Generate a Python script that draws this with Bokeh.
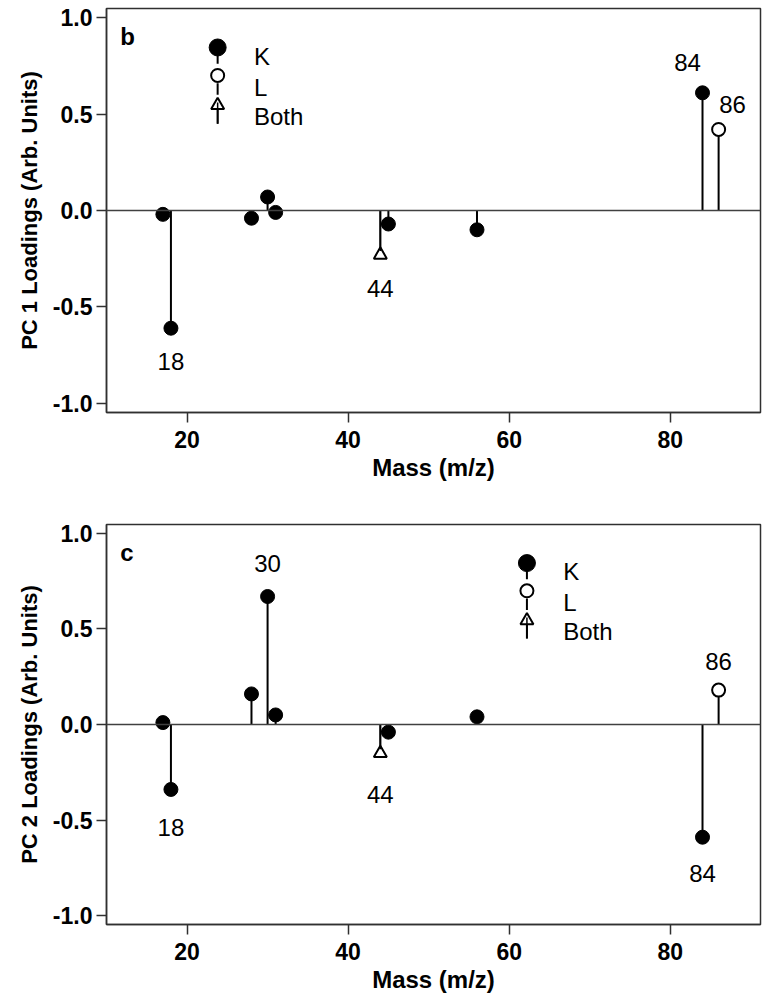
from bokeh.plotting import figure
from bokeh.layouts import column
from bokeh.models import Span, Label, FixedTicker, PrintfTickFormatter, Range1d
from bokeh.embed import file_html
from bokeh.resources import INLINE

# ---------------- data ----------------
mass = [17, 18, 28, 30, 31, 44, 45, 56, 84, 86]
ion_type = ["K", "K", "K", "K", "K", "Both", "K", "K", "K", "L"]
pc1 = [-0.02, -0.61, -0.04, 0.07, -0.01, -0.23, -0.07, -0.10, 0.61, 0.42]
pc2 = [0.01, -0.34, 0.16, 0.67, 0.05, -0.15, -0.04, 0.04, -0.59, 0.18]
x_ticks = [20, 40, 60, 80]
y_ticks = [-1.0, -0.5, 0.0, 0.5, 1.0]
legend_labels = ["K", "L", "Both"]
pc1_labelled = [18, 44, 84, 86]
pc2_labelled = [18, 30, 44, 84, 86]
panel_letters = ["b", "c"]
y_titles = ["PC 1 Loadings (Arb. Units)", "PC 2 Loadings (Arb. Units)"]
x_title = "Mass (m/z)"

# ---------------- styles / placement ----------------
FONT = "Liberation Sans"
pc1_label_offsets = {18: (0, -33), 44: (0, -34), 84: (-15, 30), 86: (14, 25)}
pc2_label_offsets = {18: (0, -38), 30: (0, 33), 44: (0, -41), 84: (0, -36), 86: (0, 29)}
AX = "#303030"


def make_panel(values, y_title, letter, labelled, offsets, legend_x,
               frame_h, border_top, border_bottom):
    p = figure(frame_width=654, frame_height=frame_h,
               x_range=Range1d(10, 91.2), y_range=Range1d(-1.047, 1.047),
               output_backend="svg", toolbar_location=None,
               min_border_left=106, min_border_right=2,
               min_border_top=border_top, min_border_bottom=border_bottom)
    p.grid.visible = False
    p.outline_line_color = AX
    p.outline_line_width = 1.5
    p.background_fill_color = "white"
    p.border_fill_color = "white"

    for ax in (p.xaxis[0], p.yaxis[0]):
        ax.axis_line_color = AX
        ax.axis_line_width = 1.5
        ax.major_tick_line_color = AX
        ax.major_tick_line_width = 1.5
        ax.major_tick_out = 10
        ax.major_tick_in = 0
        ax.minor_tick_line_color = None
        ax.major_label_text_font = FONT
        ax.major_label_text_font_style = "bold"
        ax.major_label_text_font_size = "23px"
        ax.major_label_text_color = "black"
        ax.axis_label_text_font = FONT
        ax.axis_label_text_font_style = "bold"
        ax.axis_label_text_color = "black"

    p.xaxis.ticker = FixedTicker(ticks=x_ticks)
    p.xaxis.major_label_standoff = 8
    p.xaxis.axis_label = x_title
    p.xaxis.axis_label_text_font_size = "24px"
    p.xaxis.axis_label_standoff = 3

    p.yaxis.ticker = FixedTicker(ticks=y_ticks)
    p.yaxis.formatter = PrintfTickFormatter(format="%.1f")
    p.yaxis.major_label_standoff = 4
    p.yaxis.axis_label = y_title
    p.yaxis.axis_label_text_font_size = "22px"
    p.yaxis.axis_label_standoff = 8

    p.add_layout(Span(location=0, dimension="width", line_color="#404040", line_width=1.5))

    zeros = [0] * len(mass)
    p.segment(x0=mass, y0=zeros, x1=mass, y1=values, line_color="black", line_width=2)

    kx = [m for m, t in zip(mass, ion_type) if t == "K"]
    ky = [v for v, t in zip(values, ion_type) if t == "K"]
    lx = [m for m, t in zip(mass, ion_type) if t == "L"]
    ly = [v for v, t in zip(values, ion_type) if t == "L"]
    bx = [m for m, t in zip(mass, ion_type) if t == "Both"]
    by = [v for v, t in zip(values, ion_type) if t == "Both"]

    p.scatter(kx, ky, marker="circle", size=14, fill_color="black", line_color="black")
    p.scatter(lx, ly, marker="circle", size=13, fill_color="white", line_color="black", line_width=2)
    p.scatter(bx, by, marker="triangle", size=13, fill_color="white", line_color="black", line_width=2)
    p.segment(x0=bx, y0=[0] * len(bx), x1=bx, y1=[v + 0.02 for v in by], line_color="black", line_width=1.5)

    for m in labelled:
        v = values[mass.index(m)]
        dx, dy = offsets[m]
        p.add_layout(Label(x=m, y=v, text=str(m), x_offset=dx, y_offset=dy,
                           text_align="center", text_baseline="middle",
                           text_font=FONT, text_font_size="24px", text_color="black"))

    # panel letter
    p.add_layout(Label(x=11.7, y=0.9, text=letter, text_align="left", text_baseline="middle",
                       text_font=FONT, text_font_size="24px", text_font_style="bold",
                       text_color="black"))

    # legend (marker with short stem, label at right)
    lg_marker_y = [0.845, 0.70, 0.545]
    lg_stem = [(0.845, 0.76), (0.66, 0.60), (0.565, 0.45)]
    lg_text_y = [0.80, 0.64, 0.485]
    for (y0, y1) in lg_stem:
        p.segment(x0=[legend_x], y0=[y0], x1=[legend_x], y1=[y1], line_color="black", line_width=2)
    p.scatter([legend_x], [lg_marker_y[0]], marker="circle", size=17, fill_color="black", line_color="black")
    p.scatter([legend_x], [lg_marker_y[1]], marker="circle", size=13, fill_color="white", line_color="black", line_width=2)
    p.scatter([legend_x], [lg_marker_y[2]], marker="triangle", size=13, fill_color="white", line_color="black", line_width=2)
    p.segment(x0=[legend_x], y0=[0.45], x1=[legend_x], y1=[0.56], line_color="black", line_width=1.5)
    for lab, ty in zip(legend_labels, lg_text_y):
        p.add_layout(Label(x=legend_x + 4.5, y=ty, text=lab, text_align="left", text_baseline="middle",
                           text_font=FONT, text_font_size="24px", text_color="black"))
    return p


p1 = make_panel(pc1, y_titles[0], panel_letters[0], pc1_labelled, pc1_label_offsets,
                23.8, 404, 8, 100)
p2 = make_panel(pc2, y_titles[1], panel_letters[1], pc2_labelled, pc2_label_offsets,
                62.2, 400, 12, 68)

layout = column(p1, p2, spacing=0)
open("out.html", "w").write(file_html(layout, INLINE))
